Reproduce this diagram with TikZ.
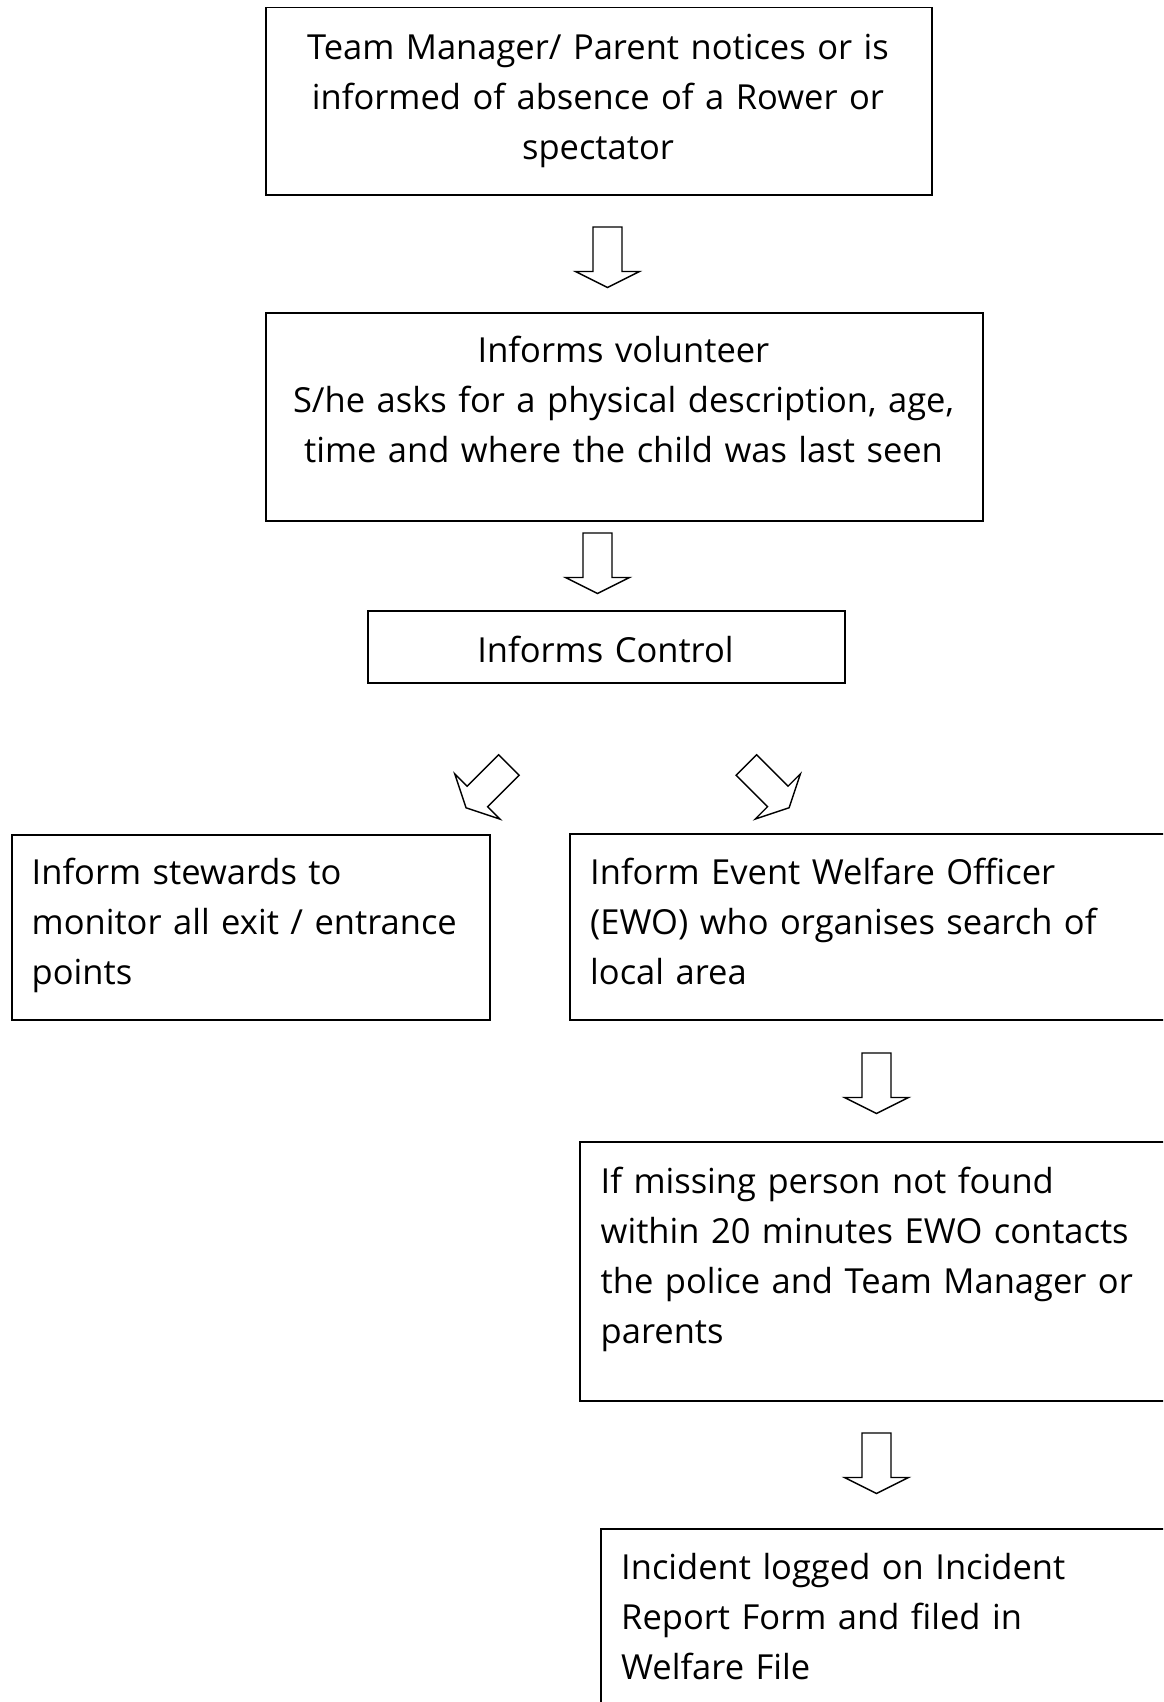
\documentclass[tikz,border=0pt]{standalone}
\usepackage{fontspec}
\setmainfont{Open Sans}
\tikzset{
  box/.style={draw, line width=1.6bp, rectangle, inner sep=0pt, anchor=north west},
  txt/.style={inner sep=0pt, font=\fontsize{34.5bp}{50bp}\selectfont},
  blk/.style={draw, line width=1.4bp, fill=white, line join=miter},
  blockarrow/.pic={\draw[blk] (-14.5,0) -- (14.5,0) -- (14.5,44.5) -- (32,44.5) -- (0,60.5) -- (-32,44.5) -- (-14.5,44.5) -- cycle;}
}
\begin{document}
\begin{tikzpicture}[x=1bp,y=-1bp]
\useasboundingbox (0,0) rectangle (1163,1702);
\fill[white] (0,0) rectangle (1163,1702);
\clip (0,0) rectangle (1163,1702);
% boxes
\node[box, minimum width=666bp, minimum height=187.5bp] (b1) at (265,6.5) {};
\node[box, minimum width=717bp, minimum height=208bp] (b2) at (265,312) {};
\node[box, minimum width=477bp, minimum height=72bp] (b3) at (367,610) {};
\node[box, minimum width=478bp, minimum height=185bp] (b4) at (11,834) {};
\node[box, minimum width=620bp, minimum height=186bp] (b5) at (569,833) {};
\node[box, minimum width=610bp, minimum height=259bp] (b6) at (579,1141) {};
\node[box, minimum width=590bp, minimum height=200bp] (b7) at (600,1528) {};
% texts
\node[txt, text width=700bp, align=center, anchor=base] (t1) at (598,59)
  {Team Manager/ Parent notices or is\\informed of absence of a Rower or\\spectator};
\node[txt, text width=700bp, align=center, anchor=base] (t2) at (623.5,362)
  {Informs volunteer\\S/he asks for a physical description, age,\\time and where the child was last seen};
\node[txt, text width=460bp, align=center, anchor=base] (t3) at (605.5,662)
  {Informs Control};
\node[txt, text width=455bp, align=left, anchor=base west] (t4) at (31.5,884)
  {Inform stewards to\\monitor all exit / entrance\\points};
\node[txt, text width=570bp, align=left, anchor=base west] (t5) at (590,884)
  {Inform Event Welfare Officer\\(EWO) who organises search of\\local area};
\node[txt, text width=560bp, align=left, anchor=base west] (t6) at (600.5,1193)
  {If missing person not found\\within 20 minutes EWO contacts\\the police and Team Manager or\\parents};
\node[txt, text width=540bp, align=left, anchor=base west] (t7) at (621,1579)
  {Incident logged on Incident\\Report Form and filed in\\Welfare File};
% block arrows
\coordinate (a1) at (607.5,227);
\coordinate (a2) at (597.5,533);
\coordinate (a3) at (508.8,765);
\coordinate (a4) at (746.3,765);
\coordinate (a5) at (876.5,1053);
\coordinate (a6) at (876.5,1433);
\pic at (a1) {blockarrow};
\pic at (a2) {blockarrow};
\pic[rotate=-45] at (a3) {blockarrow};
\pic[rotate=45] at (a4) {blockarrow};
\pic at (a5) {blockarrow};
\pic at (a6) {blockarrow};
\end{tikzpicture}
\end{document}
